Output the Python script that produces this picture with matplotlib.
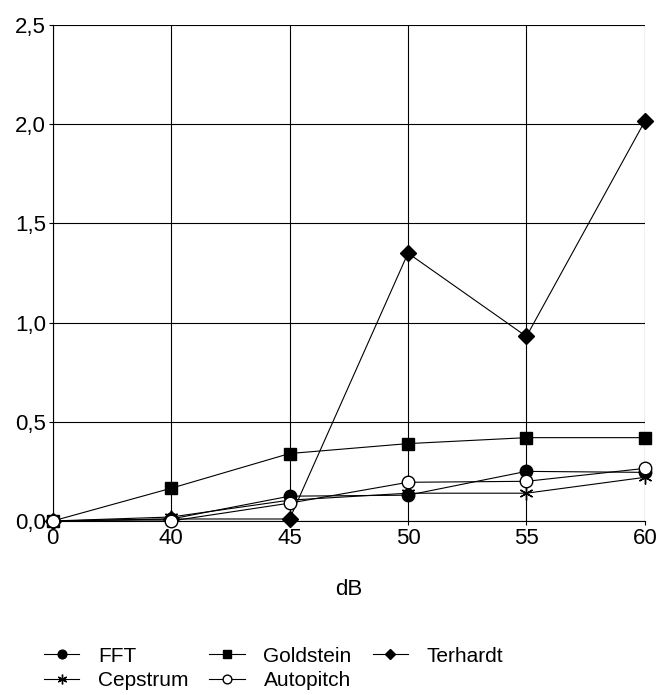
import matplotlib
matplotlib.use("Agg")
import matplotlib.pyplot as plt
from matplotlib.ticker import FuncFormatter

# Data
db_labels = ["0", "40", "45", "50", "55", "60"]
fft = [0.0, 0.01, 0.125, 0.13, 0.25, 0.245]
goldstein = [0.0, 0.165, 0.34, 0.39, 0.42, 0.42]
terhardt = [0.0, 0.01, 0.01, 1.35, 0.93, 2.015]
cepstrum = [0.0, 0.02, 0.105, 0.14, 0.14, 0.22]
autopitch = [0.0, 0.0, 0.09, 0.195, 0.2, 0.265]

x = list(range(len(db_labels)))

plt.rcParams['font.family'] = ['Liberation Sans', 'DejaVu Sans']

fig = plt.figure(figsize=(6.6, 6.95), dpi=100)
ax = fig.add_axes([0.080, 0.2504, 0.897, 0.7136])

lw = 0.8
kw = dict(color='black', lw=lw, clip_on=False, zorder=3)
l_fft, = ax.plot(x, fft, marker='o', ms=9, label='FFT', **kw)
l_gold, = ax.plot(x, goldstein, marker='s', ms=8, label='Goldstein', **kw)
l_ter, = ax.plot(x, terhardt, marker='D', ms=8, label='Terhardt', **kw)
l_cep, = ax.plot(x, cepstrum, marker=(6, 2, 0), ms=10, mew=1.0,
                 label='Cepstrum', **kw)
l_auto, = ax.plot(x, autopitch, marker='o', mfc='white', ms=9,
                  label='Autopitch', **kw)

ax.set_xlim(0, len(db_labels) - 1)
ax.set_ylim(0, 2.5)
ax.set_xticks(x)
ax.set_xticklabels(db_labels)
ax.set_yticks([0, 0.5, 1.0, 1.5, 2.0, 2.5])
ax.yaxis.set_major_formatter(FuncFormatter(lambda v, p: f"{v:.1f}".replace('.', ',')))
ax.tick_params(axis='both', labelsize=16, length=3, pad=2)
ax.grid(True, color='black', lw=0.8)
for side in ['top', 'right']:
    ax.spines[side].set_visible(False)
ax.set_xlabel("dB", fontsize=16, labelpad=22)

# matplotlib fills legend columns first; order so rows read like the reference
handles = [l_fft, l_cep, l_gold, l_auto, l_ter]
fig.legend(handles, [h.get_label() for h in handles], loc='upper left',
           bbox_to_anchor=(0.038, 1 - 628 / 695), ncol=3, frameon=False,
           fontsize=15, handlelength=1.7, handletextpad=0.9,
           columnspacing=1.0, labelspacing=0.25, markerscale=0.7)

fig.savefig("out.png", dpi=100)
